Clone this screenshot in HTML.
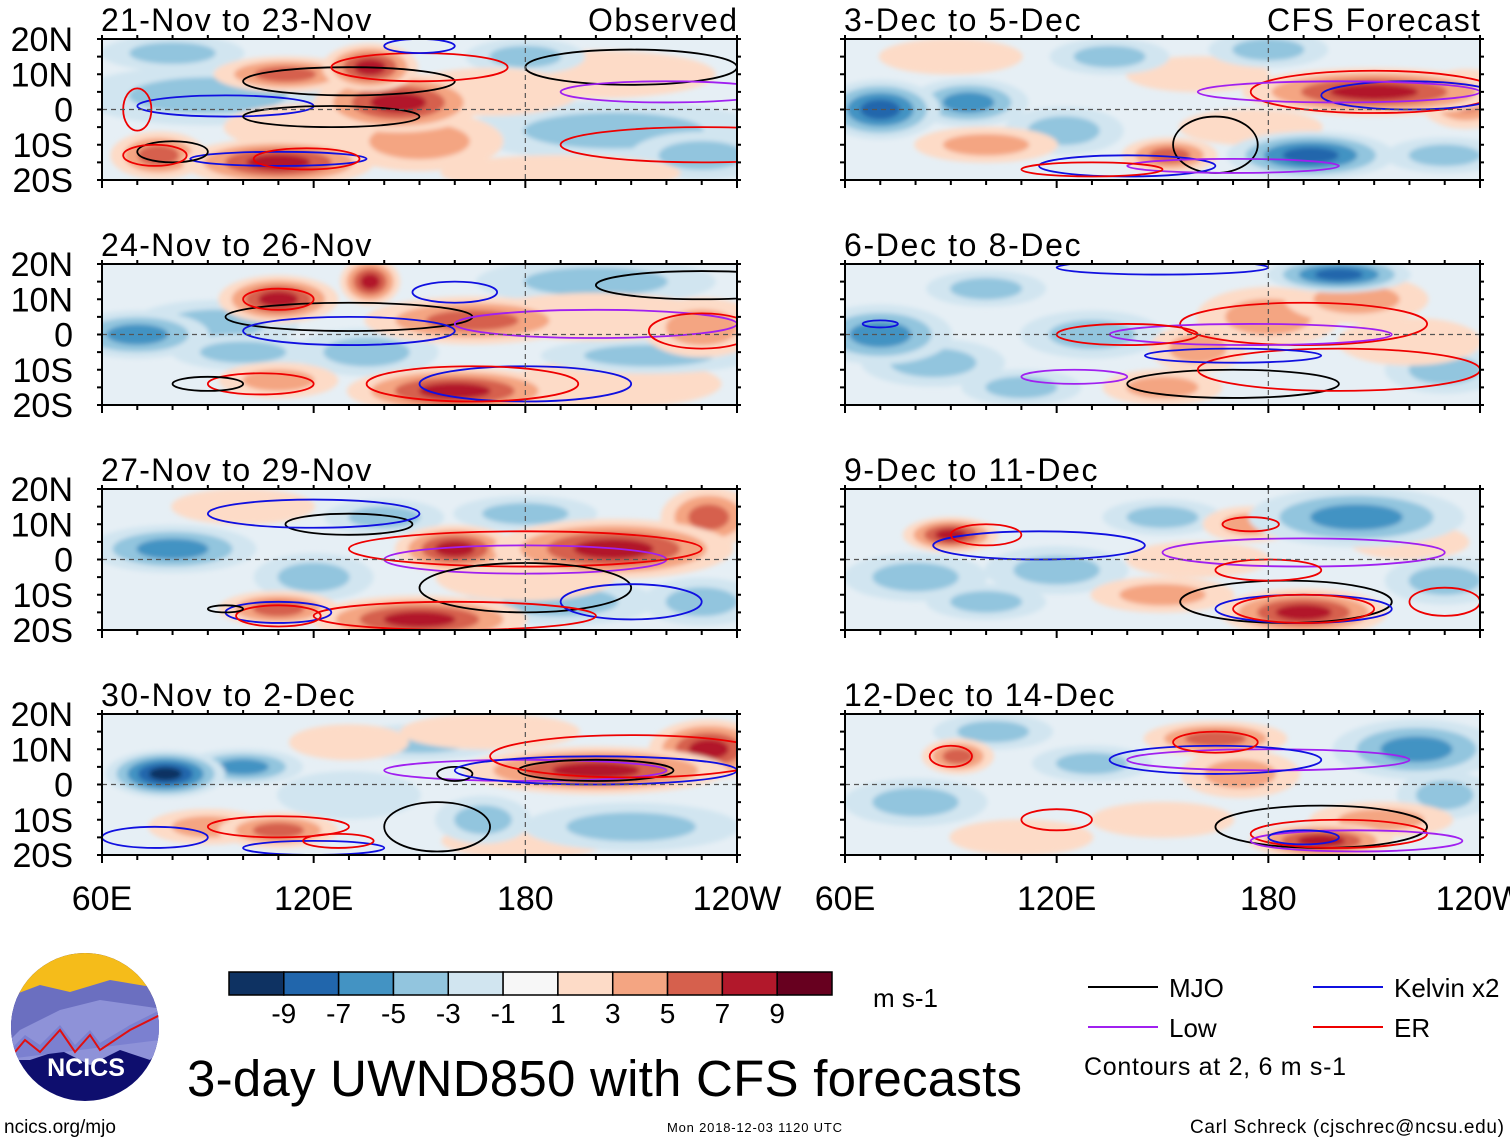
<!DOCTYPE html>
<html><head><meta charset="utf-8">
<style>
body{margin:0;background:#fff;width:1510px;height:1142px;overflow:hidden;font-family:"Liberation Sans",sans-serif}
svg{position:absolute;left:0;top:0}
</style></head>
<body>
<svg id="fig" width="1510" height="1142" viewBox="0 0 1510 1142" xmlns="http://www.w3.org/2000/svg">
<defs>
<filter id="blur" x="-30%" y="-60%" width="160%" height="220%"><feGaussianBlur stdDeviation="2.5"/></filter>
<clipPath id="cp"><rect x="0" y="0" width="635" height="141"/></clipPath>
</defs>
<g id="panels"></g>
<g id="legend"></g>
</svg>
<script>
const NS="http://www.w3.org/2000/svg";
const panelTitles=["21-Nov to 23-Nov","24-Nov to 26-Nov","27-Nov to 29-Nov","30-Nov to 2-Dec","3-Dec to 5-Dec","6-Dec to 8-Dec","9-Dec to 11-Dec","12-Dec to 14-Dec"];
const levels=[-9,-7,-5,-3,-1,1,3,5,7,9];
const colors=["#0e3262","#2166ac","#4393c3","#92c5de","#d1e5f0","#f7f7f7","#fddbc7","#f4a582","#d6604d","#b2182b","#67001f"];
const latTicks=["20N","10N","0","10S","20S"];
const lonTicks=["60E","120E","180","120W"];
// anomalies per panel: [lon, lat, value, lonRadius, latRadius]
const blobs=[
[[144,2,9,14,5],[136,12,9,8,4],[112,10,6,12,3],[76,-13,6,8,4],[110,-15,8,16,4],[150,-9,4,14,5],[200,10,3,20,4],[90,4,-3,22,5],[80,16,-3,12,3],[205,-6,-3,25,5],[230,-13,-3,12,4],[180,15,-3,10,3],[190,-18,3,20,3],[120,-5,3,15,4],[170,5,3,15,4]],
[[110,10,8,10,4],[136,15,9,5,4],[165,4,7,18,4],[160,-16,9,18,4],[205,-14,3,18,4],[230,2,5,10,5],[110,-13,5,10,3],[70,0,-5,12,4],[92,3,-3,14,4],[200,15,-3,20,4],[135,-5,-3,12,4],[215,-6,-3,18,3],[200,5,3,20,4],[100,-5,-3,12,3]],
[[160,3,9,10,4],[205,3,9,20,5],[232,12,7,8,5],[150,-17,9,18,4],[110,-14,6,10,3],[80,3,-5,14,4],[120,-5,-3,10,4],[190,-12,-3,16,4],[230,-12,-3,10,4],[180,13,-3,12,3],[140,12,-3,10,3],[180,-5,3,15,4],[100,15,3,12,3]],
[[200,4,9,22,4],[232,10,8,10,5],[110,-13,7,10,3],[90,-12,4,10,3],[180,-16,3,14,3],[78,3,-9,10,4],[100,5,-5,10,3],[150,12,-3,14,3],[210,-12,-3,18,4],[168,-10,-3,8,4],[130,-3,-2,12,4],[170,15,3,15,3],[130,12,3,10,3]],
[[210,5,9,22,4],[236,3,7,8,5],[100,-10,5,12,3],[152,-13,7,8,3],[160,10,3,12,3],[70,0,-7,10,5],[95,2,-5,10,4],[192,-13,-7,14,4],[122,-6,-3,10,4],[230,-13,-3,10,3],[180,17,-3,10,3],[135,15,-3,10,3],[90,15,3,12,3],[175,-5,3,12,3]],
[[180,5,5,12,5],[205,10,5,12,4],[160,-4,5,8,4],[150,-15,4,10,3],[70,0,-5,12,5],[200,17,-7,12,3],[130,0,-3,12,4],[230,-10,-3,10,4],[110,-15,-3,10,3],[100,13,-3,10,3],[85,-8,-3,12,4],[220,-2,3,12,4]],
[[90,7,8,8,3],[190,-15,9,14,4],[175,10,5,8,3],[150,-10,4,12,3],[220,5,3,10,3],[205,12,-5,18,5],[120,-3,-3,12,4],[80,-5,-3,12,4],[150,12,-3,10,3],[230,-6,-3,10,4],[160,0,3,12,3],[100,-12,-3,10,3]],
[[92,8,7,6,3],[195,-16,9,12,3],[165,13,6,12,3],[172,3,5,10,4],[150,-10,3,12,3],[212,-10,5,12,3],[80,-5,-3,12,4],[130,6,-3,10,3],[222,10,-5,14,5],[102,15,-3,10,3],[230,-3,-3,8,4],[110,-15,3,12,3]]
];
// contours: [type, lon, lat, lonRadius, latRadius]  type: m=MJO k=Kelvin e=ER l=Low
const contours=[
[["m",130,8,30,4],["k",95,1,25,3],["m",125,-2,25,3],["e",70,0,4,6],["e",150,12,25,4],["m",210,12,30,5],["l",220,5,30,3],["k",110,-14,25,2],["e",118,-14,15,3],["m",80,-12,10,3],["e",75,-13,9,3],["e",230,-10,40,5],["k",150,18,10,2]],
[["m",130,5,35,4],["k",130,1,30,4],["e",110,10,10,3],["l",200,3,40,4],["m",230,14,30,4],["k",160,12,12,3],["e",230,1,15,5],["e",105,-14,15,3],["m",90,-14,10,2],["k",180,-14,30,5],["e",165,-14,30,5]],
[["m",130,10,18,3],["k",120,13,30,4],["l",180,0,40,4],["e",180,3,50,5],["m",180,-8,30,7],["k",210,-12,20,5],["e",160,-16,40,4],["k",110,-15,15,3],["e",110,-16,12,3],["m",95,-14,5,1]],
[["l",180,4,40,3],["m",160,3,5,2],["k",200,4,40,4],["m",200,4,22,3],["e",210,8,40,6],["m",155,-12,15,7],["e",110,-12,20,3],["k",75,-15,15,3],["k",120,-18,20,2],["e",127,-16,10,2]],
[["e",210,5,35,6],["k",220,4,25,4],["l",200,5,40,3],["m",165,-10,12,8],["k",140,-16,25,3],["l",170,-16,30,2],["e",130,-17,20,2]],
[["e",190,3,35,6],["l",175,0,40,3],["k",70,3,5,1],["e",140,0,20,3],["m",170,-14,30,4],["e",200,-10,40,6],["l",125,-12,15,2],["k",170,-6,25,2],["k",150,19,30,2]],
[["k",115,4,30,4],["l",190,2,40,4],["e",100,7,10,3],["e",175,10,8,2],["m",185,-12,30,6],["k",190,-14,25,4],["e",190,-14,20,4],["e",180,-3,15,3],["e",230,-12,10,4]],
[["l",180,7,40,3],["k",165,7,30,4],["e",90,8,6,3],["e",165,12,12,3],["m",195,-12,30,6],["e",200,-14,25,4],["l",205,-16,30,3],["k",190,-15,10,2],["e",120,-10,10,3]]
];
const lineCols={m:"#000",k:"#1010e0",e:"#ee0000",l:"#a020f0"};
const PW=635,PH=141;
const pos=[[102,39],[102,264],[102,489],[102,714],[845,39],[845,264],[845,489],[845,714]];
function xs(lon){return (lon-60)/180*PW;}
function ys(lat){return (20-lat)/40*PH;}
function binOf(v){let i=0;while(i<levels.length&&v>levels[i])i++;return i;}
function el(tag,attrs,parent){const e=document.createElementNS(NS,tag);for(const k in attrs)e.setAttribute(k,attrs[k]);parent.appendChild(e);return e;}
const root=document.getElementById('panels');
pos.forEach((p,pi)=>{
  const g=el('g',{transform:`translate(${p[0]},${p[1]})`},root);
  
  
  const inner=el('g',{'clip-path':'url(#cp)'},g);
  el('rect',{x:0,y:0,width:PW,height:PH,fill:"#e6eff5"},inner);
  const fg=el('g',{filter:'url(#blur)'},inner);
  // outer halo layers first
  const order=blobs[pi].slice().sort((a,b)=>Math.abs(a[2])-Math.abs(b[2]));
  order.forEach(b=>{
    const [lon,lat,v,rl,rt]=b;
    const top=binOf(v);const start=v>0?6:4;
    const steps=v>0?top-start+1:start-top+1;
    for(let s=0;s<steps;s++){
      const bi=v>0?start+s:start-s;
      const f=1.7*(1-s/(steps+0.5));
      const e=el('ellipse',{cx:xs(lon),cy:ys(lat),rx:rl*PW/180*f,ry:rt*PH/40*f,fill:colors[bi]},fg);
      
      
    }
  });
  contours[pi].forEach(c=>{
    const [t,lon,lat,rl,rt]=c;
    const e=el('ellipse',{cx:xs(lon),cy:ys(lat),rx:rl*PW/180,ry:rt*PH/40,fill:'none',stroke:lineCols[t],'stroke-width':1.8},inner);
    
    
  });
  el('line',{x1:0,x2:PW,y1:ys(0),y2:ys(0),stroke:'#555','stroke-dasharray':'5,4','stroke-width':1.2},g);
  el('line',{x1:xs(180),x2:xs(180),y1:0,y2:PH,stroke:'#555','stroke-dasharray':'5,4','stroke-width':1.2},g);
  el('rect',{x:0,y:0,width:PW,height:PH,fill:'none',stroke:'#000','stroke-width':2},g);
  for(let lon=60;lon<=240;lon+=10){const L=(lon-60)%60==0?8:5;
    el('line',{x1:xs(lon),x2:xs(lon),y1:PH,y2:PH+L,stroke:'#000','stroke-width':2},g);
    el('line',{x1:xs(lon),x2:xs(lon),y1:0,y2:-4,stroke:'#000','stroke-width':2},g);}
  for(let lat=-20;lat<=20;lat+=5){
    el('line',{x1:-5,x2:0,y1:ys(lat),y2:ys(lat),stroke:'#000','stroke-width':2},g);
    el('line',{x1:PW,x2:PW+4,y1:ys(lat),y2:ys(lat),stroke:'#000','stroke-width':2},g);}
  const t=el('text',{x:-1,y:-8,'font-size':32,fill:'#000'},g);t.textContent=panelTitles[pi];
  t.setAttribute('textLength',panelTitles[pi].length*16.9);
  
  
  if(pi==0){const o=el('text',{x:PW,y:-8,'font-size':32,'text-anchor':'end',textLength:149},g);o.textContent="Observed";
    
    }
  if(pi==4){const o=el('text',{x:PW,y:-8,'font-size':32,'text-anchor':'end',textLength:213},g);o.textContent="CFS Forecast";
    
    }
  if(pi<4){latTicks.forEach((lb,i)=>{const tx=el('text',{x:-29,y:ys(20-i*10)+12,'font-size':34,'text-anchor':'end'},g);tx.textContent=lb;
    
    });}
  if(pi==3||pi==7){lonTicks.forEach((lb,i)=>{const tx=el('text',{x:xs(60+i*60),y:PH+55,'font-size':34,'text-anchor':'middle'},g);tx.textContent=lb;
    
    });}
});
// colorbar & legend
const lg=document.getElementById('legend');
const cbX=229,cbW=603/11;
colors.forEach((c,i)=>{const r=el('rect',{x:cbX+i*cbW,y:972,width:cbW,height:23,fill:c,stroke:'#000','stroke-width':1.5},lg);
  
  });
levels.forEach((v,i)=>{const t=el('text',{x:cbX+(i+1)*cbW,y:1023,'font-size':28,'text-anchor':'middle'},lg);t.textContent=v;
  
  });
function txt(x,y,s,str,anchor,name,len){const t=el('text',{x:x,y:y,'font-size':s,'text-anchor':anchor||'start'},lg);if(len)t.setAttribute('textLength',len);t.textContent=str;return t;}
txt(873,1007,26,"m s-1","start","colorbar-units");
txt(187,1096,51,"3-day UWND850 with CFS forecasts","start","figure-title",835);
txt(4,1133,19,"ncics.org/mjo","start","source-url");
txt(667,1132,13,"Mon 2018-12-03 1120 UTC","start","timestamp",175);
txt(1504,1133,19,"Carl Schreck (cjschrec@ncsu.edu)","end","author",314);
[["MJO","#000",1088,987],["Low","#a020f0",1088,1027],["Kelvin x2","#1010e0",1313,987],["ER","#ee0000",1313,1027]].forEach(e=>{
  const l=el('line',{x1:e[2],x2:e[2]+70,y1:e[3],y2:e[3],stroke:e[1],'stroke-width':2},lg);
  
  
  txt(e[2]+81,e[3]+10,26,e[0],"start","legend-entry");
});
txt(1084,1075,25,"Contours at 2, 6 m s-1","start","contour-note",262);
// logo
const logo=el('g',{},lg);


el('clipPath',{id:'lc'},logo).appendChild(document.createElementNS(NS,'ellipse'));
const ce=logo.querySelector('ellipse');ce.setAttribute('cx',85);ce.setAttribute('cy',1027);ce.setAttribute('rx',74);ce.setAttribute('ry',74);
const lgi=el('g',{'clip-path':'url(#lc)'},logo);
el('rect',{x:0,y:950,width:170,height:160,fill:'#0e0e6e'},lgi);
el('rect',{x:0,y:950,width:170,height:45,fill:'#f5bc1a'},lgi);
el('path',{d:'M0 1000 L40 985 L70 992 L110 980 L170 990 L170 1030 L0 1060Z',fill:'#6b6fc0'},lgi);
el('path',{d:'M0 1050 L20 1030 L60 1010 L100 1000 L170 1010 L170 1040 L150 1060 L120 1050 L90 1065 L60 1050 L30 1060 L0 1060Z',fill:'#8e92d8'},lgi);
el('path',{d:'M10 1050 L25 1035 L40 1045 L60 1025 L75 1045 L90 1030 L100 1043 L130 1025 L160 1010 L160 1040 L0 1060Z',fill:'#7b80d0'},lgi);
el('path',{d:'M10 1058 L25 1040 L40 1052 L60 1030 L75 1052 L90 1035 L100 1050 L130 1030 L160 1015',fill:'none',stroke:'#e01010','stroke-width':2},lgi);
const nt=el('text',{x:86,y:1076,'font-size':25,'font-weight':'bold',fill:'#fff','text-anchor':'middle'},logo);nt.textContent="NCICS";
</script>
</body></html>
